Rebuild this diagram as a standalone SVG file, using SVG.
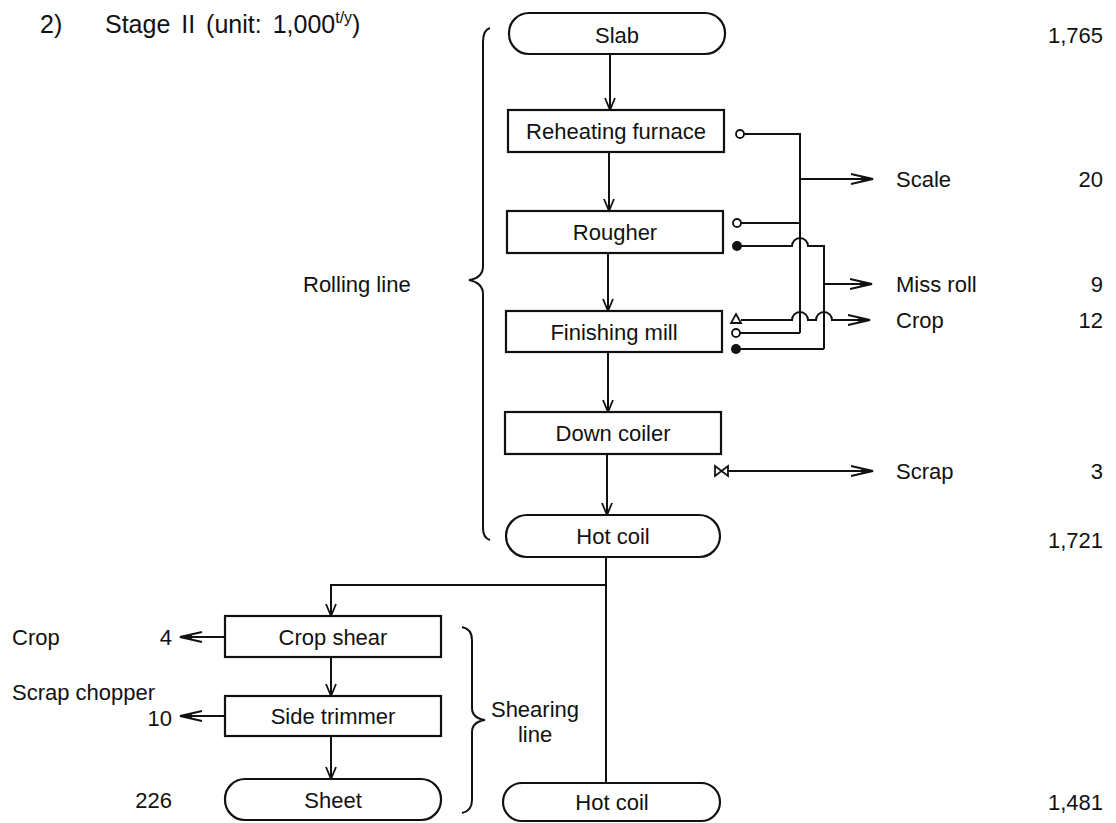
<svg xmlns="http://www.w3.org/2000/svg" width="1116" height="823" viewBox="0 0 1116 823">
<style>
  text { font-family: "Liberation Sans", Arial, sans-serif; font-size: 22px; fill: #111; }
  .c { text-anchor: middle; }
  .r { text-anchor: end; }
  .ttl { font-size: 25px; }
  .box { fill: #fff; stroke: #111; stroke-width: 2.2; }
  .ln { fill: none; stroke: #111; stroke-width: 2; }
  .brace { fill: none; stroke: #111; stroke-width: 2; }
  .dn { marker-end: url(#vhead); }
  .rt { marker-end: url(#rhead); }
</style>
<defs>
  <marker id="vhead" markerUnits="userSpaceOnUse" markerWidth="14" markerHeight="14" refX="12" refY="6" orient="auto" overflow="visible">
    <path d="M0,1 L12,6 L0,11" fill="none" stroke="#111" stroke-width="1.8"/>
  </marker>
  <marker id="rhead" markerUnits="userSpaceOnUse" markerWidth="24" markerHeight="12" refX="22" refY="6" orient="auto" overflow="visible">
    <path d="M0,1 L22,6 L0,11" fill="none" stroke="#111" stroke-width="1.8"/>
    <path d="M10,4 L22,6 L10,8 Z" fill="#111"/>
  </marker>
</defs>
<rect width="1116" height="823" fill="#fff"/>

<g id="title">
  <text class="ttl" x="40" y="33">2)</text>
  <text class="ttl" x="105" y="33" word-spacing="4">Stage II (unit: 1,000<tspan font-size="16" dy="-10">t/y</tspan><tspan dy="10">)</tspan></text>
</g>

<g id="connectors">
  <line class="ln dn" x1="610" y1="54" x2="610" y2="110"/>
  <line class="ln dn" x1="609" y1="152" x2="609" y2="211"/>
  <line class="ln dn" x1="608" y1="253" x2="608" y2="311"/>
  <line class="ln dn" x1="608" y1="352" x2="608" y2="412"/>
  <line class="ln dn" x1="607" y1="454" x2="607" y2="515"/>
  <line class="ln" x1="606" y1="557" x2="606" y2="783"/>
  <path class="ln dn" d="M606,585 H331 V616"/>
  <line class="ln dn" x1="331" y1="657" x2="331" y2="696"/>
  <line class="ln dn" x1="331" y1="736" x2="331" y2="779"/>
  <line class="ln rt" x1="225" y1="637" x2="180" y2="637"/>
  <line class="ln rt" x1="225" y1="716" x2="180" y2="716"/>

  <circle cx="740" cy="134" r="4" fill="#fff" stroke="#111" stroke-width="1.8"/>
  <path class="ln" d="M744,134 H800 V333"/>
  <line class="ln rt" x1="800" y1="179" x2="873" y2="179"/>

  <circle cx="737" cy="223" r="4" fill="#fff" stroke="#111" stroke-width="1.8"/>
  <line class="ln" x1="741" y1="223" x2="800" y2="223"/>
  <circle cx="737" cy="246" r="5" fill="#111"/>
  <path class="ln" d="M742,246 H792 A8,8 0 0 1 808,246 H824 V349"/>
  <line class="ln rt" x1="824" y1="284" x2="872" y2="284"/>

  <path d="M736,314 L741,323 L731,323 Z" fill="#fff" stroke="#111" stroke-width="1.8"/>
  <path class="ln rt" d="M741,320 H792 A8,8 0 0 1 808,320 H816 A8,8 0 0 1 832,320 H870"/>
  <circle cx="736" cy="333" r="4" fill="#fff" stroke="#111" stroke-width="1.8"/>
  <line class="ln" x1="740" y1="333" x2="800" y2="333"/>
  <circle cx="736" cy="349" r="5" fill="#111"/>
  <line class="ln" x1="741" y1="349" x2="824" y2="349"/>

  <path d="M715,466 L728,476 L728,466 L715,476 Z" fill="#fff" stroke="#111" stroke-width="1.8"/>
  <line class="ln rt" x1="728" y1="471" x2="873" y2="471"/>
</g>

<g id="slab"><rect class="box" x="509" y="13" width="216" height="41" rx="20"/><text class="c" x="617" y="43">Slab</text></g>
<g id="reheating"><rect class="box" x="508" y="110" width="216" height="42"/><text class="c" x="616" y="139">Reheating furnace</text></g>
<g id="rougher"><rect class="box" x="507" y="211" width="216" height="42"/><text class="c" x="615" y="240">Rougher</text></g>
<g id="finishing"><rect class="box" x="506" y="311" width="216" height="41"/><text class="c" x="614" y="340">Finishing mill</text></g>
<g id="downcoiler"><rect class="box" x="505" y="412" width="216" height="42"/><text class="c" x="613" y="441">Down coiler</text></g>
<g id="hotcoil1"><rect class="box" x="506" y="515" width="214" height="42" rx="21"/><text class="c" x="613" y="544">Hot coil</text></g>

<g id="cropshear"><rect class="box" x="225" y="616" width="216" height="41"/><text class="c" x="333" y="645">Crop shear</text></g>
<g id="sidetrimmer"><rect class="box" x="225" y="696" width="216" height="40"/><text class="c" x="333" y="724">Side trimmer</text></g>
<g id="sheet"><rect class="box" x="225" y="779" width="216" height="41" rx="20"/><text class="c" x="333" y="808">Sheet</text></g>
<g id="hotcoil2"><rect class="box" x="503" y="783" width="217" height="38" rx="19"/><text class="c" x="612" y="810">Hot coil</text></g>

<g id="rolling-brace">
  <path class="brace" d="M490,28 Q483,30 483,42 V266 Q483,278 469,280 Q483,283 483,294 V528 Q483,538 490,540"/>
  <text x="303" y="292" font-size="23">Rolling line</text>
</g>
<g id="shearing-brace">
  <path class="brace" d="M462,627 Q472,629 472,640 V708 Q472,718 485,720 Q472,722 472,732 V800 Q472,811 462,813"/>
  <text class="c" x="535" y="717">Shearing</text>
  <text class="c" x="535" y="742">line</text>
</g>

<g id="labels">
  <text x="896" y="187">Scale</text>
  <text x="896" y="292">Miss roll</text>
  <text x="896" y="328">Crop</text>
  <text x="896" y="479">Scrap</text>
  <text class="r" x="1103" y="43">1,765</text>
  <text class="r" x="1103" y="187">20</text>
  <text class="r" x="1103" y="292">9</text>
  <text class="r" x="1103" y="328">12</text>
  <text class="r" x="1103" y="479">3</text>
  <text class="r" x="1103" y="548">1,721</text>
  <text class="r" x="1103" y="810">1,481</text>
  <text x="12" y="645">Crop</text>
  <text class="r" x="172" y="645">4</text>
  <text x="12" y="700">Scrap chopper</text>
  <text class="r" x="172" y="726">10</text>
  <text class="r" x="172" y="808">226</text>
</g>
</svg>
